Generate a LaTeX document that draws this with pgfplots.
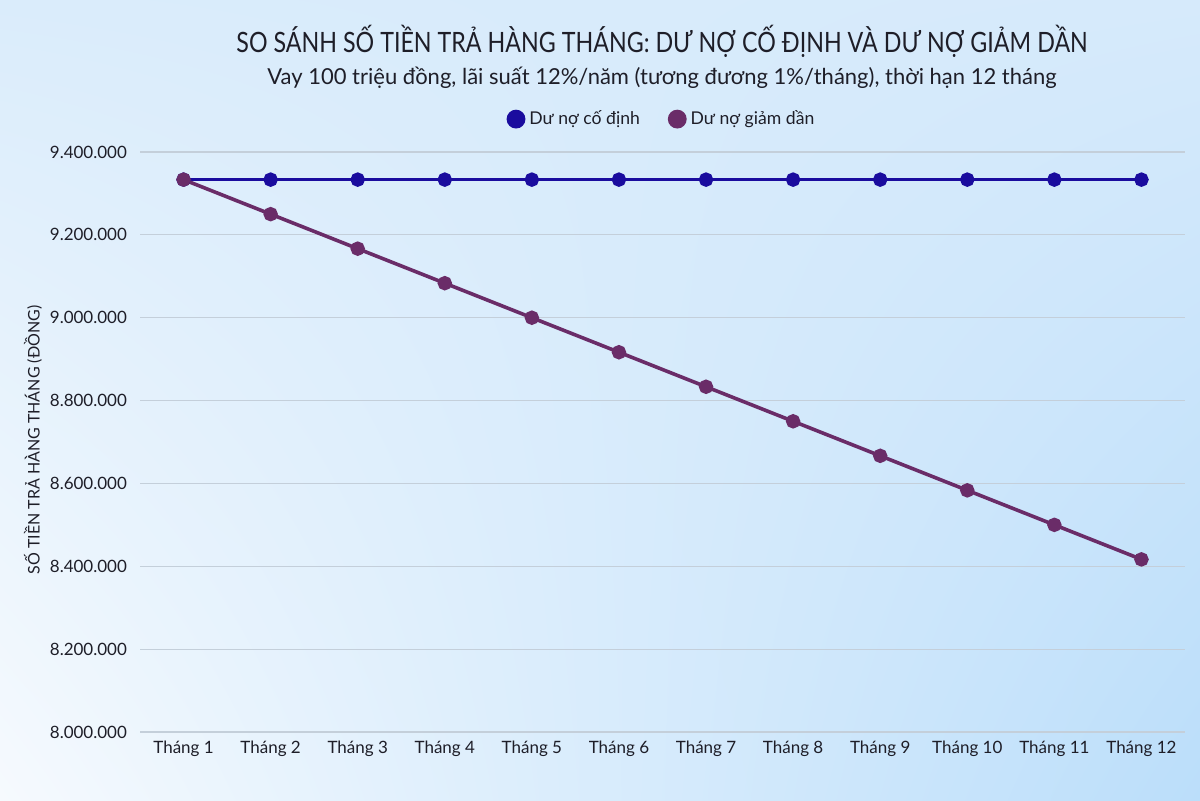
\documentclass[border=0pt]{standalone}
\usepackage{fontspec}
\setmainfont{Lato}
\usepackage{pgfplots}
\pgfplotsset{compat=1.18}
\usetikzlibrary{shadings}
\definecolor{fixc}{HTML}{1A0C9E}
\definecolor{decc}{HTML}{6A2C68}
\definecolor{bgul}{HTML}{DAECFB}
\definecolor{bgur}{HTML}{D6EAFB}
\definecolor{bgll}{HTML}{F6FAFE}
\definecolor{bglr}{HTML}{BBDEFA}
\definecolor{gridc}{HTML}{C4CFDA}
\definecolor{txt}{HTML}{1E1E28}
\begin{document}
\begin{tikzpicture}
\shade[upper left=bgul, upper right=bgur, lower left=bgll, lower right=bglr] (0pt,0pt) rectangle (600pt,400pt);
\node[font=\fontsize{14}{16}\selectfont, text=txt] at (331pt,379.5pt) {\scalebox{0.83}[1]{SO SÁNH SỐ TIỀN TRẢ HÀNG THÁNG: DƯ NỢ CỐ ĐỊNH VÀ DƯ NỢ GIẢM DẦN}};
\node[font=\fontsize{11}{13}\selectfont, text=txt] at (331pt,361pt) {Vay 100 triệu đồng, lãi suất 12\%/năm (tương đương 1\%/tháng), thời hạn 12 tháng};
\node[rotate=90, font=\fontsize{8}{10}\selectfont, text=txt] at (16.5pt,180pt) {SỐ TIỀN TRẢ HÀNG THÁNG (ĐỒNG)};
\begin{axis}[
  at={(70pt,34pt)}, anchor=south west,
  scale only axis, width=522.5pt, height=290pt,
  xmin=0.5, xmax=12.5, ymin=8000000, ymax=9400000,
  xtick={1,...,12},
  xticklabels={Tháng 1,Tháng 2,Tháng 3,Tháng 4,Tháng 5,Tháng 6,Tháng 7,Tháng 8,Tháng 9,Tháng 10,Tháng 11,Tháng 12},
  ytick={8000000,8200000,8400000,8600000,8800000,9000000,9200000,9400000},
  scaled y ticks=false,
  /pgf/number format/assume math mode=true,
  yticklabel={\pgfmathprintnumber[fixed,1000 sep={.}]{\tick}},
  axis line style={draw=none},
  major tick length=0pt,
  ymajorgrids, grid style={gridc, line width=0.6pt},
  ticklabel style={font=\fontsize{8.5}{10}\selectfont, text=txt},
  yticklabel style={xshift=-3pt},
  xticklabel style={yshift=-1pt},
  legend columns=2,
  legend style={at={(0.5,1)}, anchor=south, yshift=8pt, draw=none, fill=none,
    font=\fontsize{8.8}{10}\selectfont, text=txt,
    /tikz/every even column/.append style={column sep=12pt}},
  legend image code/.code={\fill (0.25em,0) circle (3.8pt);},
]
\addplot[color=fixc, line width=1.8pt, mark=*, mark size=2.7pt] coordinates {
(1,9333333) (2,9333333) (3,9333333) (4,9333333) (5,9333333) (6,9333333)
(7,9333333) (8,9333333) (9,9333333) (10,9333333) (11,9333333) (12,9333333)};
\addlegendentry{Dư nợ cố định}
\addplot[color=decc, line width=1.8pt, mark=*, mark size=2.7pt] coordinates {
(1,9333333) (2,9250000) (3,9166667) (4,9083333) (5,9000000) (6,8916667)
(7,8833333) (8,8750000) (9,8666667) (10,8583333) (11,8500000) (12,8416667)};
\addlegendentry{Dư nợ giảm dần}
\end{axis}
\end{tikzpicture}
\end{document}
